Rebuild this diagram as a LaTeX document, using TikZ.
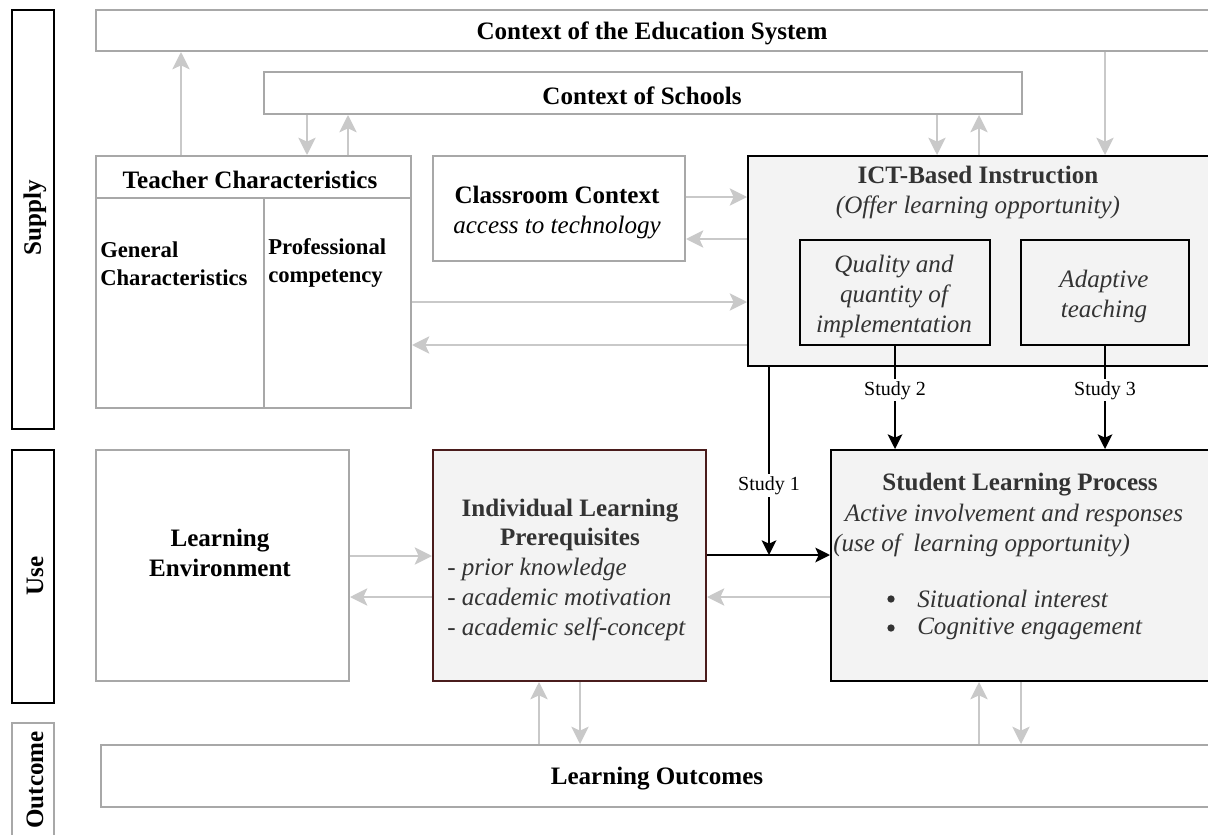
\documentclass[tikz,border=0pt]{standalone}
\usepackage{fontspec}
\setmainfont{Liberation Serif}
\usetikzlibrary{arrows.meta,fit}
\definecolor{boxgray}{HTML}{A8A8A8}
\definecolor{arrgray}{HTML}{C9C9C9}
\definecolor{fillgray}{HTML}{F3F3F3}
\definecolor{ilpred}{HTML}{4A1C1C}
\definecolor{txtgray}{HTML}{333333}
\begin{document}
\begin{tikzpicture}[x=0.75pt,y=-0.75pt,
  gbox/.style={draw=boxgray,line width=1.5pt,inner sep=0pt},
  kbox/.style={draw=black,line width=1.5pt,inner sep=0pt},
  fbox/.style={draw=black,line width=1.5pt,inner sep=0pt,fill=fillgray},
  txt/.style={font=\fontsize{18.8}{22.5}\selectfont,inner sep=0pt,align=center,text=black},
  gtxt/.style={font=\fontsize{18.8}{22.5}\selectfont,inner sep=0pt,align=center,text=txtgray},
  smallb/.style={font=\fontsize{17}{21}\selectfont\bfseries,inner sep=0pt,align=left},
  garrow/.style={draw=arrgray,line width=1.5pt,-{Stealth[length=13pt,width=13pt,inset=3pt]}},
  barrow/.style={draw=black,line width=1.5pt,-{Stealth[length=11pt,width=11pt,inset=2.5pt]}},
  studylbl/.style={font=\fontsize{15}{18}\selectfont,fill=white,inner sep=1.5pt},
  sidelbl/.style={font=\fontsize{18.8}{22.5}\selectfont\bfseries,rotate=90,inner sep=0pt},
  bulletdot/.style={circle,fill=txtgray,inner sep=0pt,minimum size=5.5pt}
]
\useasboundingbox (0,0) rectangle (1208,835);
\clip (0,0) rectangle (1208,835);

% side labels
\node[kbox,fit={(12,10)(54,429)}] (supply) {};
\node[kbox,fit={(12,450)(54,703)}] (use) {};
\node[gbox,fit={(12,723)(54,850)}] (outc) {};
\node[sidelbl] (supplyt) at (35,218) {Supply};
\node[sidelbl] (uset) at (35,576) {Use};
\node[sidelbl] (outct) at (35,780) {Outcome};

% boxes
\node[gbox,fit={(96,10)(1225,51)}] (edu) {};
\node[gbox,fit={(264,72)(1022,114)}] (schools) {};
\node[gbox,fit={(96,156)(411,408)}] (teach) {};
\node[gbox,fit={(433,156)(685,261)}] (class) {};
\node[fbox,fit={(748,156)(1225,366)}] (ict) {};
\node[fbox,fit={(800,240)(990,345)}] (qual) {};
\node[fbox,fit={(1021,240)(1189,345)}] (adapt) {};
\node[gbox,fit={(96,450)(349,681)}] (le) {};
\node[fbox,draw=ilpred,fit={(433,450)(706,681)}] (ilp) {};
\node[fbox,fit={(831,450)(1225,681)}] (slp) {};
\node[gbox,fit={(101,745)(1225,807)}] (out) {};

% teacher box dividers
\coordinate (th) at (96,198);
\coordinate (tv) at (264,198);
\draw[draw=boxgray,line width=1.5pt] (th) -- (th -| teach.east);
\draw[draw=boxgray,line width=1.5pt] (tv) -- (tv |- teach.south);

% texts
\node[txt,font=\fontsize{18.8}{22.5}\selectfont\bfseries] (edut) at (652,33) {Context of the Education System};
\node[txt,font=\fontsize{18.8}{22.5}\selectfont\bfseries] (schoolst) at (642,96) {Context of Schools};
\node[txt,font=\fontsize{18.8}{22.5}\selectfont\bfseries] (teacht) at (250,180) {Teacher Characteristics};
\node[smallb,anchor=west] (gent) at (100,264) {General\\Characteristics};
\node[smallb,anchor=west] (proft) at (268,263) {Professional\\competency};
\node[txt] (classt) at (557,213) {\textbf{Classroom Context}\\\textit{access to technology}};
\node[gtxt] (ictt) at (978,193) {\textbf{ICT-Based Instruction}\\\textit{(Offer learning opportunity)}};
\node[gtxt] (qualt) at (894,296) {\itshape Quality and\\\itshape quantity of\\\itshape implementation};
\node[gtxt] (adaptt) at (1104,296) {\itshape Adaptive\\\itshape teaching};
\node[txt,font=\fontsize{18.8}{22.5}\selectfont\bfseries] (let) at (220,553) {Learning\\Environment};
\node[gtxt,font=\fontsize{18.8}{22}\selectfont\bfseries] (ilpt) at (570,525) {Individual Learning\\Prerequisites};
\node[gtxt,align=left,anchor=west] (ilpl) at (447,599) {- \textit{prior knowledge}\\- \textit{academic motivation}\\- \textit{academic self-concept}};
\node[gtxt,font=\fontsize{18.8}{22.5}\selectfont\bfseries] (slpt) at (1020,485) {Student Learning Process};
\node[gtxt,font=\fontsize{18.8}{22.5}\selectfont\itshape] (slpa) at (1014,515) {Active involvement and responses};
\node[gtxt,font=\fontsize{18.8}{22.5}\selectfont\itshape,anchor=west] (slpb) at (833,545) {(use of~~learning opportunity)};
\node[bulletdot] (b1) at (891,599) {};
\node[bulletdot] (b2) at (891,628) {};
\node[gtxt,font=\fontsize{18.8}{22.5}\selectfont\itshape,anchor=west] (si) at (917,599) {Situational interest};
\node[gtxt,font=\fontsize{18.8}{22.5}\selectfont\itshape,anchor=west] (ce) at (917,629) {Cognitive engagement};
\node[txt,font=\fontsize{18.8}{22.5}\selectfont\bfseries] (outt) at (657,779) {Learning Outcomes};

% connector columns / rows
\coordinate (xA) at (181,0);
\coordinate (xB) at (307,0);
\coordinate (xC) at (348,0);
\coordinate (xD) at (937,0);
\coordinate (xE) at (979,0);
\coordinate (xF) at (1105,0);
\coordinate (xH) at (539,0);
\coordinate (xI) at (580,0);
\coordinate (xK) at (1021,0);
\coordinate (yA) at (0,197);
\coordinate (yB) at (0,239);
\coordinate (yC) at (0,302);
\coordinate (yD) at (0,345);
\coordinate (yE) at (0,556);
\coordinate (yF) at (0,597);
\coordinate (s1) at (769,555);

% gray connectors
\draw[garrow] (teach.north -| xA) -- (edu.south -| xA);
\draw[garrow] (schools.south -| xB) -- (teach.north -| xB);
\draw[garrow] (teach.north -| xC) -- (schools.south -| xC);
\draw[garrow] (schools.south -| xD) -- (ict.north -| xD);
\draw[garrow] (ict.north -| xE) -- (schools.south -| xE);
\draw[garrow] (edu.south -| xF) -- (ict.north -| xF);
\draw[garrow] (class.east |- yA) -- (ict.west |- yA);
\draw[garrow] (ict.west |- yB) -- (class.east |- yB);
\draw[garrow] (teach.east |- yC) -- (ict.west |- yC);
\draw[garrow] (ict.west |- yD) -- (teach.east |- yD);
\draw[garrow] (le.east |- yE) -- (ilp.west |- yE);
\draw[garrow] (ilp.west |- yF) -- (le.east |- yF);
\draw[garrow] (slp.west |- yF) -- (ilp.east |- yF);
\draw[garrow] (out.north -| xH) -- (ilp.south -| xH);
\draw[garrow] (ilp.south -| xI) -- (out.north -| xI);
\draw[garrow] (out.north -| xE) -- (slp.south -| xE);
\draw[garrow] (slp.south -| xK) -- (out.north -| xK);

% black connectors
\draw[barrow] (ilp.east |- s1) -- (slp.west |- s1);
\draw[barrow] (ict.south -| s1) -- node[studylbl,pos=0.63] (st1) {Study 1} (s1);
\draw[barrow] (qual.south) -- node[studylbl,pos=0.43] (st2) {Study 2} (qual.south |- slp.north);
\draw[barrow] (adapt.south) -- node[studylbl,pos=0.43] (st3) {Study 3} (adapt.south |- slp.north);
\end{tikzpicture}
\end{document}
